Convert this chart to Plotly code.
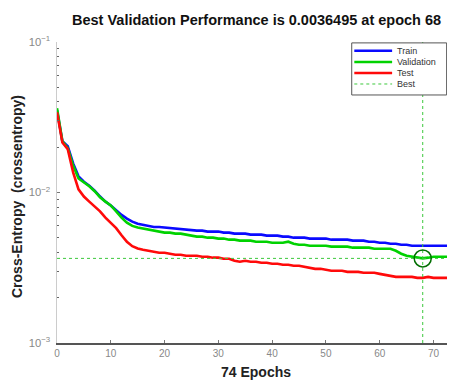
import plotly.graph_objects as go

epochs = list(range(75))

train = [0.0352, 0.0219, 0.0203, 0.0156, 0.0128, 0.0118, 0.0111, 0.0103, 0.0094, 0.0087,
         0.0082, 0.0076, 0.0071, 0.0067, 0.0064, 0.0062, 0.0061, 0.0060, 0.0059, 0.0059,
         0.00585, 0.00585, 0.00575, 0.00575, 0.00567, 0.00567, 0.00558, 0.00558, 0.0055, 0.0055,
         0.0055, 0.00541, 0.00541, 0.00533, 0.00533, 0.00533, 0.00525, 0.00525, 0.00525, 0.00517,
         0.00517, 0.00517, 0.00509, 0.00509, 0.00501, 0.00501, 0.00501, 0.00494, 0.00494, 0.00494,
         0.00494, 0.00486, 0.00486, 0.00486, 0.00486, 0.00479, 0.00479, 0.00479, 0.00471, 0.00471,
         0.00464, 0.00464, 0.00457, 0.00457, 0.0045, 0.0045, 0.00443, 0.00443, 0.00443, 0.00443,
         0.00443, 0.00443, 0.00443, 0.00443, 0.00443]

validation = [0.0363, 0.0219, 0.0197, 0.0151, 0.0124, 0.0117, 0.0110, 0.0102, 0.0093, 0.0087,
              0.0082, 0.0075, 0.0068, 0.0063, 0.0060, 0.00585, 0.00575, 0.00567, 0.00558, 0.0055,
              0.00541, 0.00541, 0.00533, 0.00533, 0.00525, 0.00517, 0.00509, 0.00509, 0.00501, 0.00501,
              0.00494, 0.00494, 0.00486, 0.00486, 0.00479, 0.00479, 0.00479, 0.00471, 0.00471, 0.00471,
              0.00464, 0.00464, 0.00464, 0.00471, 0.00457, 0.0045, 0.0045, 0.00443, 0.00443, 0.00443,
              0.00443, 0.00437, 0.00437, 0.00437, 0.00437, 0.0043, 0.0043, 0.0043, 0.0043, 0.00423,
              0.00423, 0.00423, 0.00423, 0.0041, 0.00392, 0.0038, 0.00374, 0.00369, 0.0036495, 0.00369,
              0.00374, 0.00374, 0.00374, 0.00374, 0.00374]

test = [0.0342, 0.0215, 0.0194, 0.0136, 0.0105, 0.0094, 0.0087, 0.0081, 0.0075, 0.0068,
        0.0063, 0.0058, 0.0052, 0.0047, 0.0044, 0.00425, 0.00417, 0.0041, 0.00404, 0.00398,
        0.00398, 0.00392, 0.00386, 0.00386, 0.0038, 0.0038, 0.0038, 0.00374, 0.00374, 0.00369,
        0.00369, 0.00363, 0.00363, 0.00352, 0.00347, 0.00352, 0.00347, 0.00347, 0.00341, 0.00341,
        0.00336, 0.00336, 0.00331, 0.00331, 0.00326, 0.00326, 0.00321, 0.00316, 0.00311, 0.00311,
        0.00307, 0.00302, 0.00302, 0.00302, 0.00297, 0.00297, 0.00297, 0.00293, 0.00293, 0.00293,
        0.00288, 0.00284, 0.0028, 0.00275, 0.00275, 0.00275, 0.00275, 0.00271, 0.00271, 0.00275,
        0.00271, 0.00271, 0.00271, 0.00271, 0.00271]

series_names = ["Train", "Validation", "Test", "Best"]
series_colors = ["rgb(10,10,255)", "rgb(0,210,0)", "rgb(255,10,10)", "rgb(60,200,60)"]

best_epoch = 68
best_value = 0.0036495
x_range = [0, 74]
y_range = [0.001, 0.1]
x_ticks = [0, 10, 20, 30, 40, 50, 60, 70]

title_text = "Best Validation Performance is 0.0036495 at epoch 68"
x_title = "74 Epochs"
y_title = "Cross-Entropy  (crossentropy)"

fig = go.Figure()
for name, data, color in zip(series_names[:3], [train, validation, test], series_colors[:3]):
    fig.add_trace(go.Scatter(x=epochs, y=data, mode="lines", name=name, showlegend=False,
                             line=dict(color=color, width=2.6)))
fig.add_trace(go.Scatter(x=x_range, y=[best_value, best_value], mode="lines", showlegend=False,
                         line=dict(color=series_colors[3], width=1, dash="dot")))
fig.add_trace(go.Scatter(x=[best_epoch, best_epoch], y=y_range, mode="lines", showlegend=False,
                         line=dict(color=series_colors[3], width=1, dash="dot")))
fig.add_trace(go.Scatter(x=[best_epoch], y=[best_value], mode="markers", showlegend=False,
                         marker=dict(symbol="circle-open", size=17, color="rgb(0,110,0)",
                                     line=dict(color="rgb(0,110,0)", width=1.5))))

# manual compact legend (paper coordinates)
lg_x0, lg_x1, lg_y0, lg_y1 = 0.7405, 0.979, 0.824, 0.997
fig.add_shape(type="rect", xref="paper", yref="paper", x0=lg_x0, x1=lg_x1, y0=lg_y0, y1=lg_y1,
              line=dict(color="#555", width=1), fillcolor="white", layer="above")
entry_y = [0.9711, 0.9336, 0.897, 0.8605]
for i, (name, color) in enumerate(zip(series_names, series_colors)):
    fig.add_shape(type="line", xref="paper", yref="paper", x0=0.747, x1=0.842,
                  y0=entry_y[i], y1=entry_y[i], layer="above",
                  line=dict(color=color, width=2.6 if i < 3 else 1, dash="solid" if i < 3 else "dot"))
    fig.add_annotation(xref="paper", yref="paper", x=0.849, y=entry_y[i], text=name,
                       showarrow=False, xanchor="left", yanchor="middle",
                       font=dict(size=9, color="#333"))

# titles as annotations for exact placement
fig.add_annotation(xref="paper", yref="paper", x=0.501, y=1.073, text="<b>" + title_text + "</b>",
                   showarrow=False, xanchor="center", yanchor="middle",
                   font=dict(size=14.5, color="#111"))
fig.add_annotation(xref="paper", yref="paper", x=0.501, y=-0.0963, text="<b>" + x_title + "</b>",
                   showarrow=False, xanchor="center", yanchor="middle",
                   font=dict(size=14, color="#222"))
fig.add_annotation(xref="paper", yref="paper", x=-0.1005, y=0.485, text="<b>" + y_title + "</b>",
                   showarrow=False, xanchor="center", yanchor="middle", textangle=-90,
                   font=dict(size=14, color="#222"))

fig.update_layout(
    width=447, height=372,
    margin=dict(l=49, r=0, t=34, b=37),
    paper_bgcolor="white", plot_bgcolor="white",
    font=dict(family="Liberation Sans, Arial, sans-serif", color="#222"),
    showlegend=False,
    xaxis=dict(range=x_range, tickvals=x_ticks, ticks="inside", ticklen=3,
               tickcolor="#777", showgrid=False, zeroline=False, automargin=False,
               showline=True, linecolor="#555", linewidth=1.5,
               tickfont=dict(size=10, color="#888")),
    yaxis=dict(type="log", range=[-3, -1], dtick=1, exponentformat="power",
               ticks="inside", ticklen=3, tickcolor="#777", showgrid=False, zeroline=False,
               automargin=False, ticklabelstandoff=4,
               showline=True, linecolor="#ccc", linewidth=1,
               tickfont=dict(size=9, color="#888"),
               minor=dict(ticks="inside", ticklen=2, tickcolor="#666", dtick="D1", showgrid=False)),
)

fig.write_html("out.html")
